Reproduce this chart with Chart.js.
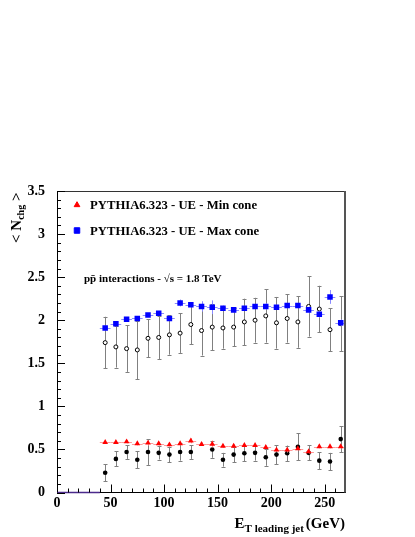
<!DOCTYPE html>
<html><head><meta charset="utf-8">
<script src="https://cdn.jsdelivr.net/npm/chart.js@4.4.1/dist/chart.umd.min.js"></script>
<style>html,body{margin:0;padding:0;background:#fff;} #wrap{width:415px;height:537px;}</style>
</head><body><div id="wrap"><canvas id="c" width="415" height="537"></canvas></div>
<script>
// E_T of the leading jet (bin centres, GeV)
const etBins = [45,55,65,75,85,95,105,115,125,135,145,155,165,175,185,195,205,215,225,235,245,255,265];
// PYTHIA6.323 UE - Max cone (blue squares)
const pythiaMax    = [1.91,1.96,2.01,2.02,2.06,2.08,2.02,2.20,2.18,2.16,2.15,2.14,2.12,2.14,2.16,2.16,2.15,2.17,2.17,2.12,2.07,2.27,1.97];
const pythiaMaxErr = [0.03,0.02,0.02,0.02,0.02,0.02,0.03,0.04,0.03,0.06,0.08,0.03,0.03,0.03,0.03,0.04,0.03,0.03,0.03,0.04,0.04,0.08,0.04];
// PYTHIA6.323 UE - Min cone (red triangles)
const pythiaMin    = [0.583,0.583,0.590,0.567,0.575,0.567,0.555,0.567,0.600,0.560,0.563,0.540,0.540,0.548,0.548,0.525,0.494,0.494,0.509,0.474,0.532,0.532,0.532];
const pythiaMinErr = [0.02,0.02,0.02,0.02,0.03,0.02,0.02,0.02,0.03,0.02,0.04,0.02,0.02,0.02,0.02,0.02,0.02,0.03,0.02,0.02,0.02,0.02,0.02];
// Data - Max cone (open circles)
const dataMax      = [1.74,1.69,1.67,1.655,1.79,1.80,1.83,1.85,1.95,1.88,1.92,1.91,1.92,1.98,2.00,2.05,1.97,2.02,1.98,2.16,2.13,1.89,1.96];
const dataMaxErr   = [0.30,0.24,0.27,0.34,0.22,0.25,0.23,0.23,0.23,0.29,0.27,0.24,0.22,0.27,0.26,0.31,0.30,0.28,0.30,0.35,0.27,0.25,0.32];
// Data - Min cone (filled circles)
const dataMin      = [0.23,0.39,0.47,0.38,0.47,0.46,0.44,0.47,0.47,null,0.50,0.38,0.44,0.455,0.46,0.41,0.44,0.455,0.53,0.46,0.37,0.36,0.62];
const dataMinErr   = [0.10,0.087,0.08,0.10,0.15,0.077,0.09,0.10,0.08,0.08,0.097,0.08,0.087,0.09,0.09,0.10,0.11,0.09,0.155,0.087,0.10,0.10,0.15];
// empty histogram range drawn on the axis
const emptyRange = [0, 40];
// tick labels
const xTickValues = [0,50,100,150,200,250];
const xTickLabels = ['0','50','100','150','200','250'];
const yTickValues = [0,0.5,1,1.5,2,2.5,3,3.5];
const yTickLabels = ['0','0.5','1','1.5','2','2.5','3','3.5'];
const binHalfWidth = 5;

const SERIF = '"Liberation Serif", "Times New Roman", serif';
const pts = (vals) => etBins.map((x,i) => ({x, y: vals[i]}));

const errPlugin = {
  id: 'errs',
  beforeDatasetDraw(chart, args) {
    const ds = chart.data.datasets[args.index];
    if (!ds.err) return;
    const {ctx, scales: {x, y}} = chart;
    ctx.save();
    ctx.strokeStyle = ds.errColor; ctx.lineWidth = 1;
    ds.data.forEach((p, i) => {
      if (p.y == null) return;
      const e = ds.err[i];
      const px = Math.round(x.getPixelForValue(p.x)) + 0.5;
      const y1 = y.getPixelForValue(p.y - e), y2 = y.getPixelForValue(p.y + e);
      ctx.beginPath();
      ctx.moveTo(px, y1); ctx.lineTo(px, y2);
      if (ds.capW) {
        ctx.moveTo(px - ds.capW, Math.round(y1)+0.5); ctx.lineTo(px + ds.capW, Math.round(y1)+0.5);
        ctx.moveTo(px - ds.capW, Math.round(y2)+0.5); ctx.lineTo(px + ds.capW, Math.round(y2)+0.5);
      }
      if (ds.xErr) {
        const py = Math.round(y.getPixelForValue(p.y)) + 0.5;
        ctx.moveTo(x.getPixelForValue(p.x - ds.xErr), py);
        ctx.lineTo(x.getPixelForValue(p.x + ds.xErr), py);
      }
      ctx.stroke();
    });
    ctx.restore();
  }
};

const decoPlugin = {
  id: 'deco',
  afterDraw(chart) {
    const {ctx, chartArea: a, scales: {x, y}} = chart;
    ctx.save();
    // frame top/right
    ctx.strokeStyle = '#333'; ctx.lineWidth = 1;
    ctx.beginPath(); ctx.moveTo(a.left, a.top + 0.5); ctx.lineTo(a.right, a.top + 0.5); ctx.stroke();
    ctx.strokeStyle = '#555'; ctx.lineWidth = 2;
    ctx.beginPath(); ctx.moveTo(a.right, a.top); ctx.lineTo(a.right, a.bottom); ctx.stroke();
    // ticks
    ctx.strokeStyle = '#000'; ctx.lineWidth = 1;
    ctx.beginPath();
    for (let k = 0; k <= 35; k++) {
      const py = Math.round(y.getPixelForValue(k / 10)) + 0.5;
      const len = (k % 5 === 0) ? 8 : 4;
      ctx.moveTo(a.left, py); ctx.lineTo(a.left + len, py);
    }
    for (let k = 0; k <= 26; k++) {
      const px = Math.round(x.getPixelForValue(k * 10)) + 0.5;
      const len = (k % 5 === 0) ? 8 : 4;
      ctx.moveTo(px, a.bottom); ctx.lineTo(px, a.bottom - len);
    }
    ctx.stroke();

    // legend
    const helpers = Chart.helpers;
    ctx.fillStyle = '#ff0000'; ctx.strokeStyle = '#ff0000'; ctx.lineWidth = 1;
    helpers.drawPoint(ctx, {pointStyle: 'triangle', radius: 3.3, borderWidth: 1}, 77, 205);
    ctx.fillStyle = '#0000ff'; ctx.strokeStyle = '#0000ff';
    helpers.drawPoint(ctx, {pointStyle: 'rect', radius: 3.9, borderWidth: 1}, 77, 230.5);
    ctx.fillStyle = '#000';
    ctx.font = 'bold 12.7px ' + SERIF;
    ctx.textBaseline = 'alphabetic'; ctx.textAlign = 'left';
    ctx.fillText('PYTHIA6.323 - UE - Min cone', 90, 208.5);
    ctx.fillText('PYTHIA6.323 - UE - Max cone', 90, 235);

    // annotation
    ctx.font = 'bold 11px ' + SERIF;
    ctx.fillText('pp\u0304 interactions - \u221As = 1.8 TeV', 84, 282);

    // x title
    ctx.textAlign = 'right';
    ctx.font = 'bold 15px ' + SERIF;
    ctx.fillText('(GeV)', 345, 528);
    const wG = ctx.measureText('(GeV)').width;
    ctx.font = 'bold 11px ' + SERIF;
    ctx.fillText('T leading jet', 345 - wG - 2, 532);
    const wS = ctx.measureText('T leading jet').width;
    ctx.font = 'bold 15px ' + SERIF;
    ctx.fillText('E', 345 - wG - 2 - wS, 528);

    // y title
    ctx.translate(21, 243);
    ctx.rotate(-Math.PI / 2);
    ctx.textAlign = 'left';
    let cx = 0;
    ctx.font = 'bold 15px ' + SERIF;
    ctx.fillText('< N', cx, 0); cx += ctx.measureText('< N').width;
    ctx.font = 'bold 10px ' + SERIF;
    ctx.fillText('chg', cx, 3); cx += ctx.measureText('chg').width;
    ctx.font = 'bold 15px ' + SERIF;
    ctx.fillText(' >', cx, 0);
    ctx.restore();
  }
};

new Chart(document.getElementById('c'), {
  type: 'scatter',
  data: {
    datasets: [
      { label: 'PYTHIA6.323 - UE - Max cone', data: pts(pythiaMax), err: pythiaMaxErr, errColor: '#8a8aff', xErr: binHalfWidth,
        pointStyle: 'rect', pointRadius: 3.9, backgroundColor: '#0000ff', borderColor: '#0000ff', borderWidth: 0, order: 0 },
      { label: 'PYTHIA6.323 - UE - Min cone', data: pts(pythiaMin), err: pythiaMinErr, errColor: '#ff9a9a', xErr: binHalfWidth,
        pointStyle: 'triangle', pointRadius: 3.3, backgroundColor: '#ff0000', borderColor: '#ff0000', borderWidth: 0, order: 0 },
      { label: 'Data - Max cone', data: pts(dataMax), err: dataMaxErr, errColor: '#808080', capW: 2,
        pointStyle: 'circle', pointRadius: 2, backgroundColor: '#ffffff', borderColor: '#000000', borderWidth: 1, order: 1 },
      { label: 'Data - Min cone', data: pts(dataMin), err: dataMinErr, errColor: '#808080', capW: 2,
        pointStyle: 'circle', pointRadius: 2.3, backgroundColor: '#000000', borderColor: '#000000', borderWidth: 0, order: 1 },
      { type: 'line', label: 'empty', data: emptyRange.map(v => ({x: v, y: 0})), borderColor: '#4b2a8c', borderWidth: 1.5,
        pointRadius: 0, clip: false, order: 2 }
    ]
  },
  options: {
    responsive: false, animation: false, devicePixelRatio: 1,
    layout: { padding: { top: 191, right: 70, left: 0, bottom: 0 } },
    plugins: { legend: { display: false }, tooltip: { enabled: false } },
    scales: {
      x: {
        type: 'linear', min: 0, max: 269,
        grid: { display: false, drawTicks: false },
        border: { display: true, color: '#000', width: 1 },
        afterBuildTicks: s => { s.ticks = xTickValues.map(v => ({value: v})); },
        afterFit: s => { s.height = 44.5; },
        ticks: { padding: 2, color: '#000', maxRotation: 0, autoSkip: false,
                 callback: (v, i) => xTickLabels[i],
                 font: { family: SERIF, weight: 'bold', size: 14 } }
      },
      y: {
        type: 'linear', min: 0, max: 3.5,
        grid: { display: false, drawTicks: false },
        border: { display: true, color: '#000', width: 1 },
        afterBuildTicks: s => { s.ticks = yTickValues.map(v => ({value: v})); },
        afterFit: s => { s.width = 57; },
        ticks: { padding: 12, color: '#000', autoSkip: false,
                 callback: (v, i) => yTickLabels[i],
                 font: { family: SERIF, weight: 'bold', size: 14 } }
      }
    }
  },
  plugins: [errPlugin, decoPlugin]
});
</script></body></html>
